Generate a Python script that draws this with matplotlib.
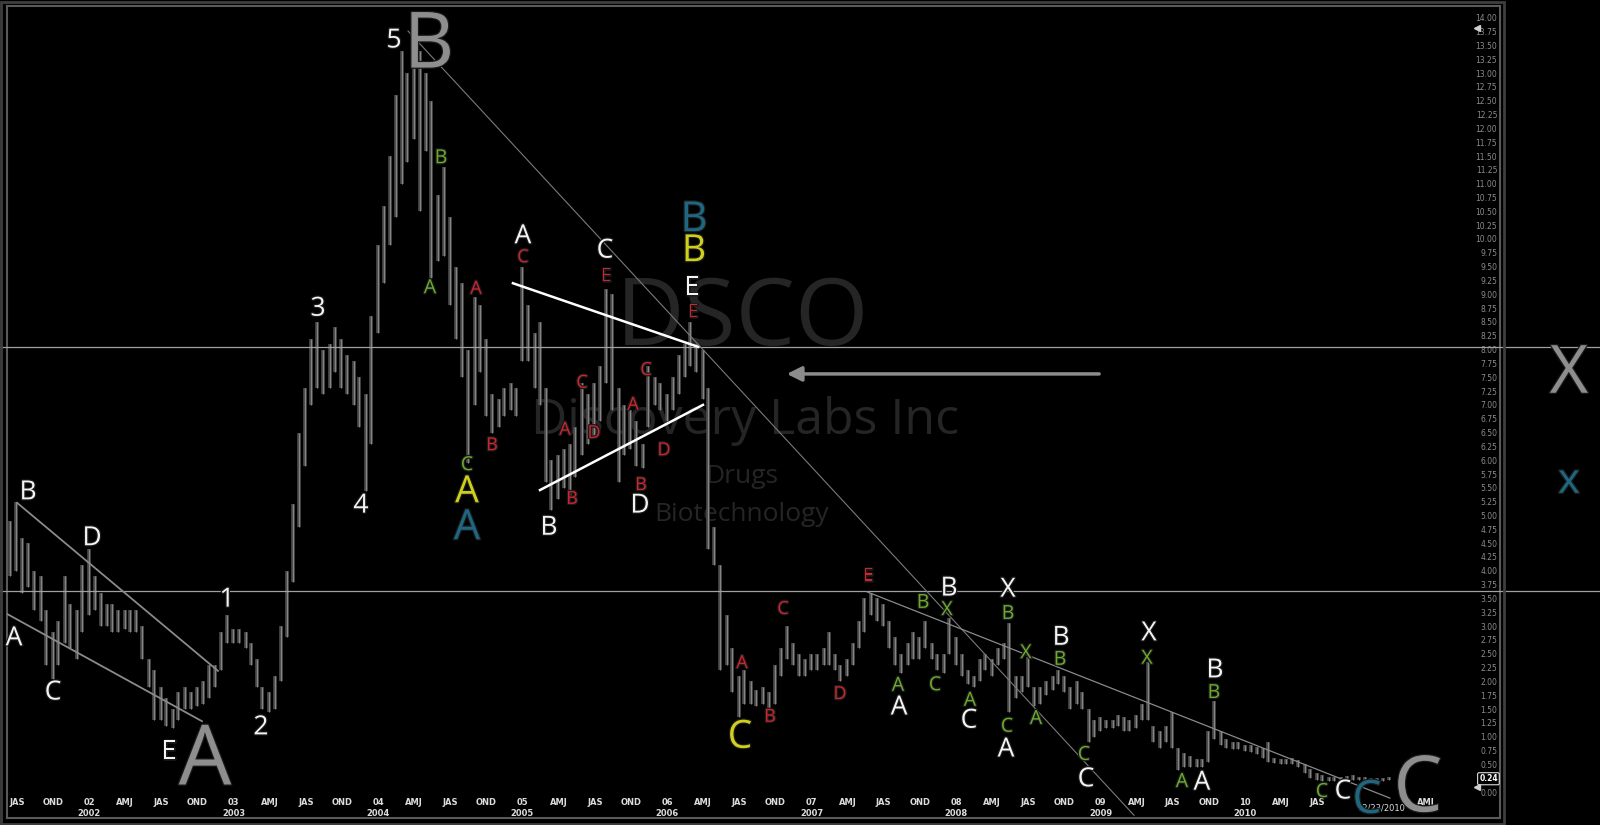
import numpy as np
import pandas as pd
import matplotlib
matplotlib.use("Agg")
import matplotlib.pyplot as plt
import matplotlib.patheffects as pe
from matplotlib import transforms
from matplotlib.patches import Rectangle

# semi-monthly high / low of DSCO, starting mid June 2001
hi = [4.9, 5.25, 4.6, 4.5, 4.0, 3.9, 3.3, 2.9, 3.1, 3.9, 3.4, 3.3, 4.1, 4.4, 3.9, 3.6, 3.4, 3.4, 3.3, 3.3, 3.3, 3.3, 3.0, 2.4,
      2.2, 1.9, 1.7, 1.5, 1.8, 1.9, 1.8, 1.9, 2.0, 2.3, 2.3, 2.9, 3.2, 2.95, 2.95, 2.9, 2.7, 2.4, 1.9, 1.8, 2.1, 3.0, 4.0, 5.2,
      6.5, 7.3, 8.2, 8.5, 8.0, 8.1, 8.4, 8.2, 7.9, 7.8, 7.5, 7.2, 8.6, 9.9, 10.6, 11.5, 12.6, 13.4, 13.0, 13.85, 13.4, 13.0, 12.5, 10.8,
      11.3, 10.4, 9.5, 9.2, 8.0, 8.95, 8.8, 8.2, 7.2, 7.1, 7.3, 7.4, 7.3, 9.5, 8.8, 8.3, 8.5, 7.3, 6.0, 6.1, 6.2, 6.3, 6.6, 7.4,
      7.2, 7.4, 7.7, 9.1, 9.0, 7.3, 7.0, 6.9, 6.7, 6.3, 7.7, 7.5, 7.4, 7.2, 7.5, 7.9, 8.1, 8.5, 8.1, 8.0, 7.3, 4.8, 4.1, 3.2,
      2.6, 2.1, 2.2, 2.0, 1.85, 1.9, 1.8, 2.3, 2.6, 3.0, 2.7, 2.5, 2.4, 2.5, 2.5, 2.6, 2.9, 2.5, 2.3, 2.4, 2.7, 3.1, 3.5, 3.6,
      3.5, 3.4, 3.1, 2.8, 2.5, 2.7, 2.9, 2.8, 3.1, 2.7, 2.5, 2.5, 3.15, 2.8, 2.5, 2.2, 2.1, 2.4, 2.5, 2.4, 2.6, 2.7, 3.05, 2.1,
      2.1, 2.45, 1.9, 1.9, 2.0, 2.1, 2.2, 2.1, 1.9, 2.0, 1.8, 1.5, 1.3, 1.35, 1.3, 1.3, 1.4, 1.35, 1.3, 1.4, 1.6, 2.35, 1.2, 1.1,
      1.2, 1.45, 0.8, 0.7, 0.65, 0.6, 0.6, 1.1, 1.65, 1.1, 0.95, 0.9, 0.9, 0.85, 0.85, 0.82, 0.8, 0.9, 0.62, 0.6, 0.6, 0.62, 0.58, 0.5,
      0.42, 0.35, 0.3, 0.28, 0.27, 0.28, 0.29, 0.3, 0.28, 0.27, 0.26, 0.25, 0.26, 0.28]
lo = [3.9, 4.0, 3.6, 3.7, 3.3, 3.1, 2.3, 2.05, 2.3, 2.7, 2.6, 2.4, 2.9, 3.2, 3.3, 3.0, 3.0, 2.9, 2.9, 2.95, 2.9, 2.9, 2.4, 1.9,
      1.3, 1.3, 1.2, 1.15, 1.3, 1.5, 1.5, 1.55, 1.6, 1.7, 1.9, 2.2, 2.7, 2.7, 2.7, 2.6, 2.3, 1.9, 1.5, 1.45, 1.5, 2.0, 2.8, 3.8,
      4.8, 5.9, 7.0, 7.3, 7.2, 7.3, 7.6, 7.3, 7.2, 7.0, 6.6, 5.45, 6.3, 8.3, 9.2, 9.9, 10.4, 11.0, 11.4, 11.8, 10.5, 11.6, 9.3, 9.6,
      9.7, 8.8, 8.2, 7.5, 5.95, 7.0, 7.6, 6.8, 6.5, 6.6, 6.8, 6.9, 6.8, 7.8, 7.8, 7.3, 7.0, 5.6, 5.1, 5.3, 5.5, 5.3, 5.7, 6.1,
      6.3, 6.4, 6.7, 7.4, 6.9, 5.6, 6.1, 6.2, 5.9, 5.85, 6.6, 7.0, 6.9, 6.7, 6.9, 7.2, 7.5, 7.7, 7.6, 7.1, 4.4, 4.1, 2.2, 2.3,
      1.8, 1.35, 1.6, 1.6, 1.55, 1.6, 1.5, 1.6, 2.1, 2.4, 2.3, 2.1, 2.1, 2.2, 2.2, 2.3, 2.3, 2.2, 2.0, 2.1, 2.3, 2.6, 2.9, 3.2,
      3.1, 3.0, 2.6, 2.3, 2.15, 2.3, 2.4, 2.4, 2.6, 2.4, 2.2, 2.15, 2.5, 2.3, 2.1, 1.95, 1.9, 2.0, 2.2, 2.1, 2.3, 2.4, 1.45, 1.7,
      1.8, 1.9, 1.55, 1.6, 1.75, 1.85, 1.95, 1.8, 1.5, 1.6, 1.5, 0.9, 1.0, 1.1, 1.15, 1.15, 1.2, 1.1, 1.1, 1.15, 1.3, 1.3, 0.9, 0.8,
      0.9, 0.8, 0.4, 0.45, 0.45, 0.45, 0.45, 0.55, 0.95, 0.85, 0.8, 0.78, 0.78, 0.75, 0.72, 0.68, 0.62, 0.55, 0.52, 0.5, 0.5, 0.5, 0.45, 0.35,
      0.25, 0.22, 0.2, 0.2, 0.2, 0.21, 0.22, 0.22, 0.21, 0.2, 0.2, 0.19, 0.2, 0.22]

dates = pd.date_range("2001-06-15", periods=len(hi), freq="SMS")
t = dates.year + (dates.dayofyear - 1) / 365.25

# wave labels: (text, year, price, colour key, size)
labels = [
    ("A", 2001.481, 2.77, "w", 19), ("B", 2001.578, 5.41, "w", 19), ("C", 2001.751, 1.79, "w", 19),
    ("D", 2002.021, 4.58, "w", 19), ("E", 2002.554, 0.72, "w", 19), ("1", 2002.955, 3.47, "w", 19),
    ("2", 2003.190, 1.16, "w", 19), ("3", 2003.585, 8.73, "w", 19), ("4", 2003.882, 5.17, "w", 19),
    ("5", 2004.111, 13.58, "w", 19), ("A", 2005.003, 10.04, "w", 19), ("C", 2005.571, 9.78, "w", 19),
    ("B", 2005.183, 4.77, "w", 19), ("D", 2005.813, 5.17, "w", 19), ("E", 2006.173, 9.11, "w", 19),
    ("A", 2007.606, 1.52, "w", 19), ("B", 2007.952, 3.67, "w", 19), ("C", 2008.090, 1.28, "w", 19),
    ("X", 2008.360, 3.65, "w", 19), ("A", 2008.346, 0.76, "w", 19), ("B", 2008.727, 2.78, "w", 19),
    ("C", 2008.900, 0.22, "w", 19), ("X", 2009.336, 2.86, "w", 19), ("B", 2009.792, 2.19, "w", 19),
    ("A", 2009.702, 0.16, "w", 19), ("C", 2010.678, 0.0, "w", 19),
    ("B", 2004.436, 11.46, "g", 14), ("A", 2004.360, 9.11, "g", 14), ("C", 2004.616, 5.91, "g", 14),
    ("B", 2007.772, 3.42, "g", 14), ("X", 2007.938, 3.29, "g", 14), ("A", 2007.599, 1.92, "g", 14),
    ("C", 2007.855, 1.93, "g", 14), ("A", 2008.097, 1.65, "g", 14), ("B", 2008.360, 3.22, "g", 14),
    ("C", 2008.353, 1.18, "g", 14), ("X", 2008.484, 2.51, "g", 14), ("A", 2008.554, 1.32, "g", 14),
    ("B", 2008.720, 2.39, "g", 14), ("C", 2008.886, 0.67, "g", 14), ("X", 2009.322, 2.41, "g", 14),
    ("B", 2009.785, 1.79, "g", 14), ("A", 2009.564, 0.18, "g", 14), ("C", 2010.533, 0.0, "g", 14),
    ("C", 2005.003, 9.67, "r", 13), ("A", 2004.678, 9.10, "r", 13), ("B", 2004.789, 6.27, "r", 13),
    ("E", 2005.578, 9.33, "r", 13), ("C", 2005.412, 7.40, "r", 13), ("A", 2005.294, 6.55, "r", 13),
    ("D", 2005.495, 6.49, "r", 13), ("B", 2005.343, 5.30, "r", 13), ("C", 2005.855, 7.63, "r", 13),
    ("A", 2005.765, 7.00, "r", 13), ("D", 2005.979, 6.18, "r", 13), ("B", 2005.820, 5.55, "r", 13),
    ("E", 2006.180, 8.68, "r", 13), ("E", 2007.391, 3.91, "r", 13), ("C", 2006.803, 3.31, "r", 13),
    ("A", 2006.519, 2.33, "r", 13), ("B", 2006.713, 1.36, "r", 13), ("D", 2007.197, 1.77, "r", 13),
    ("A", 2004.616, 5.42, "y", 27), ("B", 2006.187, 9.78, "y", 27), ("C", 2006.505, 0.98, "y", 28),
    ("A", 2004.616, 4.77, "t", 30), ("B", 2006.187, 10.34, "t", 30), ("C", 2010.844, -0.16, "t", 33),
    ("x", 2012.242, 5.61, "t", 30),
    ("A", 2002.803, 0.52, "k", 60), ("B", 2004.353, 13.47, "k", 56), ("C", 2011.197, 0.02, "k", 56),
    ("X", 2012.242, 7.54, "k", 48),
]
colors = {"w": "#f4f4f4", "g": "#6aab2c", "r": "#d0242d", "y": "#cfcf1c", "t": "#1f6780", "k": "#8e8e8e"}

# trend lines: (year1, price1, year2, price2, colour, width)
trends = [
    (2001.502, 5.23, 2002.893, 2.19, "#8a8a8a", 1.3),
    (2001.419, 3.24, 2002.782, 1.28, "#8a8a8a", 1.3),
    (2004.208, 13.76, 2009.232, -0.42, "#7a7a7a", 0.8),
    (2007.384, 3.62, 2011.003, -0.11, "#8a8a8a", 0.9),
    (2004.934, 9.20, 2006.215, 8.05, "#ffffff", 1.8),
    (2005.121, 5.46, 2006.249, 7.00, "#ffffff", 1.8),
]
hlines = [8.05, 3.63]
price_ticks = np.arange(0, 14.01, 0.25)
quarters = np.arange(2001.5, 2011.26, 0.25)
qnames = {1: "AMJ", 2: "JAS", 3: "OND"}

fig = plt.figure(figsize=(16, 8.25), dpi=100, facecolor="black")
ax = fig.add_axes([7 / 1600, 7 / 825, 1493 / 1600, 812 / 825], facecolor="black")
ax.set_xlim(2001.4325, 2011.765)
ax.set_ylim(-0.47, 14.213)

# price bars
ax.vlines(t, lo, hi, color="#4c4c4c", lw=2.6, zorder=2)
ax.vlines(t, lo, hi, color="#858585", lw=0.8, zorder=2)

# watermark
wm = dict(color="#252525", ha="center", va="center", family=["Open Sans", "DejaVu Sans"], zorder=1)
ax.text(2006.52, 8.52, "DSCO", fontsize=68, **wm)
ax.text(2006.54, 6.71, "Discovery Labs Inc", fontsize=36, **wm)
ax.text(2006.52, 5.71, "Drugs", fontsize=19, **wm)
ax.text(2006.52, 5.01, "Biotechnology", fontsize=19, **wm)

for y in hlines:
    tr = transforms.blended_transform_factory(fig.transFigure, ax.transData)
    ax.plot([0, 1], [y, y], transform=tr, color="#a0a0a0", lw=0.9, clip_on=False, zorder=3)

for x1, y1, x2, y2, c, w in trends:
    ax.plot([x1, x2], [y1, y2], color=c, lw=w, zorder=3)

ax.annotate("", xy=(2006.81, 7.56), xytext=(2009.01, 7.56),
            arrowprops=dict(arrowstyle="-|>", color="#8c8c8c", lw=2.5, mutation_scale=22), zorder=4)

glow = [pe.withStroke(linewidth=1.8, foreground="#1a1a1a")]
for s, x, y, c, fs in labels:
    ax.text(x, y, s, color=colors[c], fontsize=fs, ha="center", va="center",
            family=["Open Sans", "DejaVu Sans"], path_effects=glow, zorder=6)

# price axis inside the right edge
ax.yaxis.tick_right()
ax.set_yticks(price_ticks)
ax.set_yticklabels(["%.2f" % v for v in price_ticks])
ax.tick_params(axis="y", length=0, pad=-2, labelsize=5.5, labelcolor="#8c8c8c")
for lbl in ax.get_yticklabels():
    lbl.set_horizontalalignment("right")
ax.set_xticks([])
ax.text(0.9985, 0.24, "0.24", transform=transforms.blended_transform_factory(ax.transAxes, ax.transData),
        ha="right", va="center", fontsize=5.5, color="white", fontweight="bold",
        bbox=dict(boxstyle="round,pad=0.2", fc="black", ec="#dddddd", lw=0.8), zorder=7)
ax.plot([2011.606, 2011.606], [13.81, 0.09], ls="none", marker="<", ms=4, color="#d0d0d0", zorder=7)

# time axis labels inside the bottom edge
tq = transforms.blended_transform_factory(ax.transData, ax.transAxes)
for q in quarters:
    year = int(np.floor(q + 1e-6))
    k = int(round((q - year) * 4))
    if q in (2010.75, 2011.0):
        continue
    name = qnames[k] if k else "%02d" % (year % 100)
    ax.text(q, 0.019, name, transform=tq, ha="center", va="center", fontsize=6,
            color="#dcdcdc", fontweight="bold")
    if k == 0:
        ax.text(q, 0.0055, str(year), transform=tq, ha="center", va="center", fontsize=6,
                color="#dcdcdc", fontweight="bold")
ax.text(2010.94, 0.0125, "12/23/2010", transform=tq, ha="center", va="center", fontsize=6,
        color="#dcdcdc", zorder=5)

for sp in ax.spines.values():
    sp.set_color("#5a5a5a")
    sp.set_linewidth(1.5)

fig.add_artist(Rectangle((1 / 1600, 1 / 825), 1503 / 1600, 822 / 825, transform=fig.transFigure,
                         fill=False, ec="#3e3e3e", lw=2))

fig.savefig("out.png", dpi=100, facecolor="black")
